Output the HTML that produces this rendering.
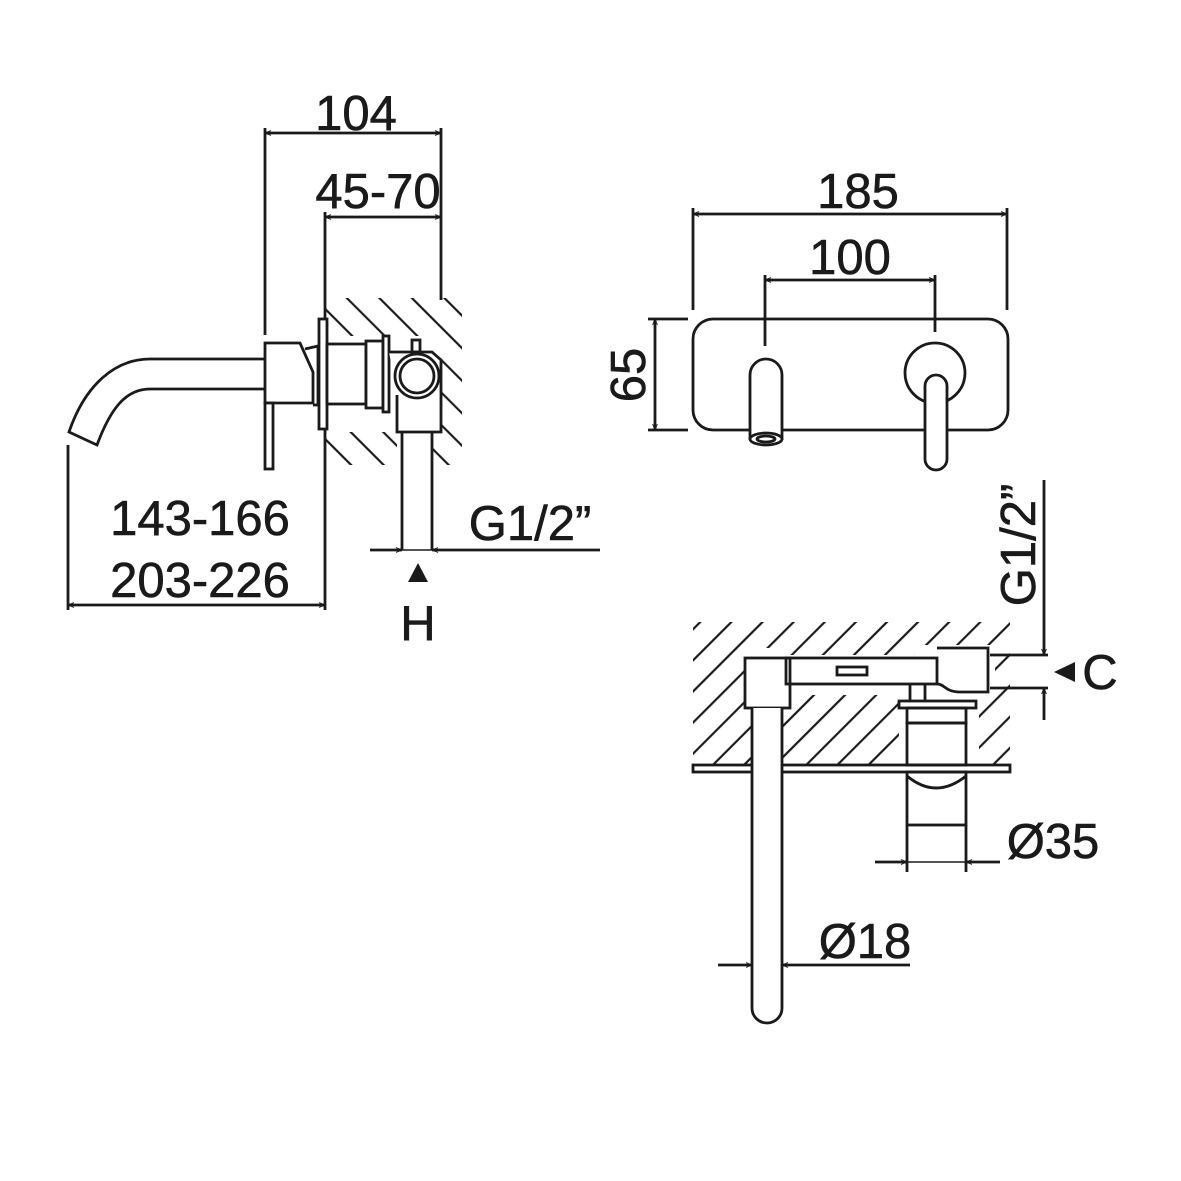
<!DOCTYPE html>
<html><head><meta charset="utf-8"><style>
html,body{margin:0;padding:0;background:#fff}
svg{display:block}
text{font-family:"Liberation Sans",sans-serif;font-size:49px;fill:#1a1a1a;stroke:#1a1a1a;stroke-width:0.6}
</style></head><body>
<svg width="1181" height="1181" viewBox="0 0 1181 1181" xmlns="http://www.w3.org/2000/svg">
<defs>
<pattern id="hL" patternUnits="userSpaceOnUse" width="23" height="23" patternTransform="rotate(-45)">
<line x1="11.5" y1="-5" x2="11.5" y2="28" stroke="#1a1a1a" stroke-width="2.2"/></pattern>
<pattern id="hR" patternUnits="userSpaceOnUse" width="22" height="22" patternTransform="rotate(45)">
<line x1="11" y1="-5" x2="11" y2="27" stroke="#1a1a1a" stroke-width="2.2"/></pattern>
<marker id="ar" viewBox="0 0 10 10" refX="10" refY="5" markerWidth="26" markerHeight="6" markerUnits="userSpaceOnUse" orient="auto-start-reverse">
<path d="M0,1 L10,5 L0,9" fill="none" stroke="#1a1a1a" stroke-width="1.5"/></marker>
</defs>
<g stroke="#1a1a1a" stroke-width="2.8" fill="none">
<!-- LEFT VIEW -->
<rect x="325" y="298" width="137" height="167" fill="url(#hL)" stroke="none"/>
<rect x="319" y="336" width="122" height="96" fill="#fff" stroke="none"/>
<rect x="397" y="432" width="35" height="33" fill="#fff" stroke="none"/>
<line x1="265" y1="128" x2="265" y2="335"/>
<line x1="441" y1="128" x2="441" y2="300"/>
<line x1="265" y1="133" x2="441" y2="133" marker-start="url(#ar)" marker-end="url(#ar)"/>
<line x1="325" y1="212" x2="325" y2="610"/>
<line x1="325" y1="217" x2="441" y2="217" marker-start="url(#ar)" marker-end="url(#ar)"/>
<path d="M265,359 L150,359 C115,359 85,385 69,432 L97,445 C110,410 125,389 150,389 L265,389"/>
<path d="M265,343 L300,343 L313,372 L313,403 L265,403 Z" fill="#fff"/>
<path d="M305,349 L318,346 L318,405 L313,405"/>
<rect x="265" y="403" width="8" height="66" fill="#fff"/>
<rect x="319" y="319" width="8" height="110" fill="#fff"/>
<rect x="327" y="344" width="39" height="60" fill="#fff"/>
<rect x="366" y="341" width="17" height="67" fill="#fff"/>
<rect x="383" y="336" width="6" height="76" fill="#fff"/>
<path d="M389,352 L432,352 L441,360 L441,432 L397,432 L397,395" fill="#fff"/>
<circle cx="417" cy="376" r="22" fill="#fff"/>
<circle cx="417" cy="376" r="17"/>
<rect x="412" y="340" width="8" height="12"/>
<line x1="402" y1="432" x2="402" y2="550"/>
<line x1="432" y1="432" x2="432" y2="550"/>
<line x1="370" y1="550" x2="402" y2="550" marker-end="url(#ar)"/>
<line x1="600" y1="550" x2="432" y2="550" marker-end="url(#ar)"/>
<line x1="402" y1="550" x2="432" y2="550" stroke-width="1.5"/>
<line x1="68" y1="445" x2="68" y2="610"/>
<line x1="68" y1="605" x2="325" y2="605" marker-start="url(#ar)" marker-end="url(#ar)"/>

<!-- FRONT VIEW -->
<line x1="693" y1="208" x2="693" y2="310"/>
<line x1="1007" y1="208" x2="1007" y2="310"/>
<line x1="693" y1="214" x2="1007" y2="214" marker-start="url(#ar)" marker-end="url(#ar)"/>
<line x1="765" y1="275" x2="765" y2="346"/>
<line x1="935" y1="275" x2="935" y2="332"/>
<line x1="765" y1="280" x2="935" y2="280" marker-start="url(#ar)" marker-end="url(#ar)"/>
<line x1="648" y1="319" x2="688" y2="319"/>
<line x1="648" y1="430" x2="688" y2="430"/>
<line x1="655" y1="319" x2="655" y2="430" marker-start="url(#ar)" marker-end="url(#ar)"/>
<rect x="693" y="319" width="315" height="111" rx="20"/>
<path d="M750,440 L750,375 A16,16 0 0 1 782,375 L782,440" fill="#fff"/>
<ellipse cx="766" cy="439" rx="16" ry="6" fill="#fff"/>
<ellipse cx="766" cy="439" rx="9" ry="3"/>
<circle cx="935" cy="373" r="30" fill="#fff"/>
<rect x="925" y="375" width="22" height="95" rx="11" fill="#fff"/>

<!-- TOP VIEW -->
<rect x="693" y="622" width="317" height="143" fill="url(#hR)" stroke="none"/>
<rect x="745" y="655" width="245" height="40" fill="#fff" stroke="none"/>
<rect x="745" y="648" width="45" height="60" fill="#fff" stroke="none"/>
<rect x="915" y="645" width="80" height="50" fill="#fff" stroke="none"/>
<rect x="752" y="708" width="30" height="57" fill="#fff" stroke="none"/>
<rect x="899" y="684" width="80" height="81" fill="#fff" stroke="none"/>
<rect x="693" y="765" width="317" height="7" fill="#fff"/>
<rect x="745" y="658" width="45" height="50"/>
<rect x="786" y="658" width="151" height="26"/>
<rect x="837" y="667" width="30" height="8"/>
<path d="M937,648 L988,648 L988,692 L960,692 C945,692 945,684 937,684"/>
<line x1="910" y1="684" x2="910" y2="701"/><line x1="925" y1="684" x2="925" y2="701"/>
<rect x="899" y="701" width="77" height="7"/>
<rect x="907" y="708" width="59" height="15"/>
<rect x="907" y="723" width="59" height="42"/>
<path d="M752,708 L752,1008 A15,15 0 0 0 782,1008 L782,708" fill="#fff"/>
<rect x="907" y="772" width="59" height="53"/>
<path d="M907,776 Q936,800 966,776"/>
<line x1="990" y1="655" x2="1048" y2="655"/>
<line x1="990" y1="688" x2="1048" y2="688"/>
<line x1="1044" y1="480" x2="1044" y2="655" marker-end="url(#ar)"/>
<line x1="1044" y1="720" x2="1044" y2="688" marker-end="url(#ar)"/>
<line x1="907" y1="825" x2="907" y2="872"/>
<line x1="966" y1="825" x2="966" y2="872"/>
<line x1="875" y1="862" x2="907" y2="862" marker-end="url(#ar)"/>
<line x1="1000" y1="862" x2="966" y2="862" marker-end="url(#ar)"/>
<line x1="907" y1="862" x2="966" y2="862" stroke-width="1.5"/>
<line x1="718" y1="965" x2="752" y2="965" marker-end="url(#ar)"/>
<line x1="910" y1="965" x2="782" y2="965" marker-end="url(#ar)"/>
</g>
<path d="M408,582 L418,563 L428,582 Z" fill="#1a1a1a"/>
<path d="M1075,662 L1054,672 L1075,682 Z" fill="#1a1a1a"/>
<text x="356" y="130" text-anchor="middle">104</text>
<text x="378" y="208" text-anchor="middle">45-70</text>
<text x="530" y="540" text-anchor="middle">G1/2”</text>
<text x="418" y="640" text-anchor="middle">H</text>
<text x="200" y="535" text-anchor="middle">143-166</text>
<text x="200" y="597" text-anchor="middle">203-226</text>
<text x="858" y="208" text-anchor="middle">185</text>
<text x="850" y="274" text-anchor="middle">100</text>
<text transform="translate(645,375) rotate(-90)" text-anchor="middle">65</text>
<text transform="translate(1035,545) rotate(-90)" text-anchor="middle">G1/2”</text>
<text x="1100" y="689" text-anchor="middle">C</text>
<text x="1053" y="858" text-anchor="middle">Ø35</text>
<text x="865" y="958" text-anchor="middle">Ø18</text>
</svg>
</body></html>
